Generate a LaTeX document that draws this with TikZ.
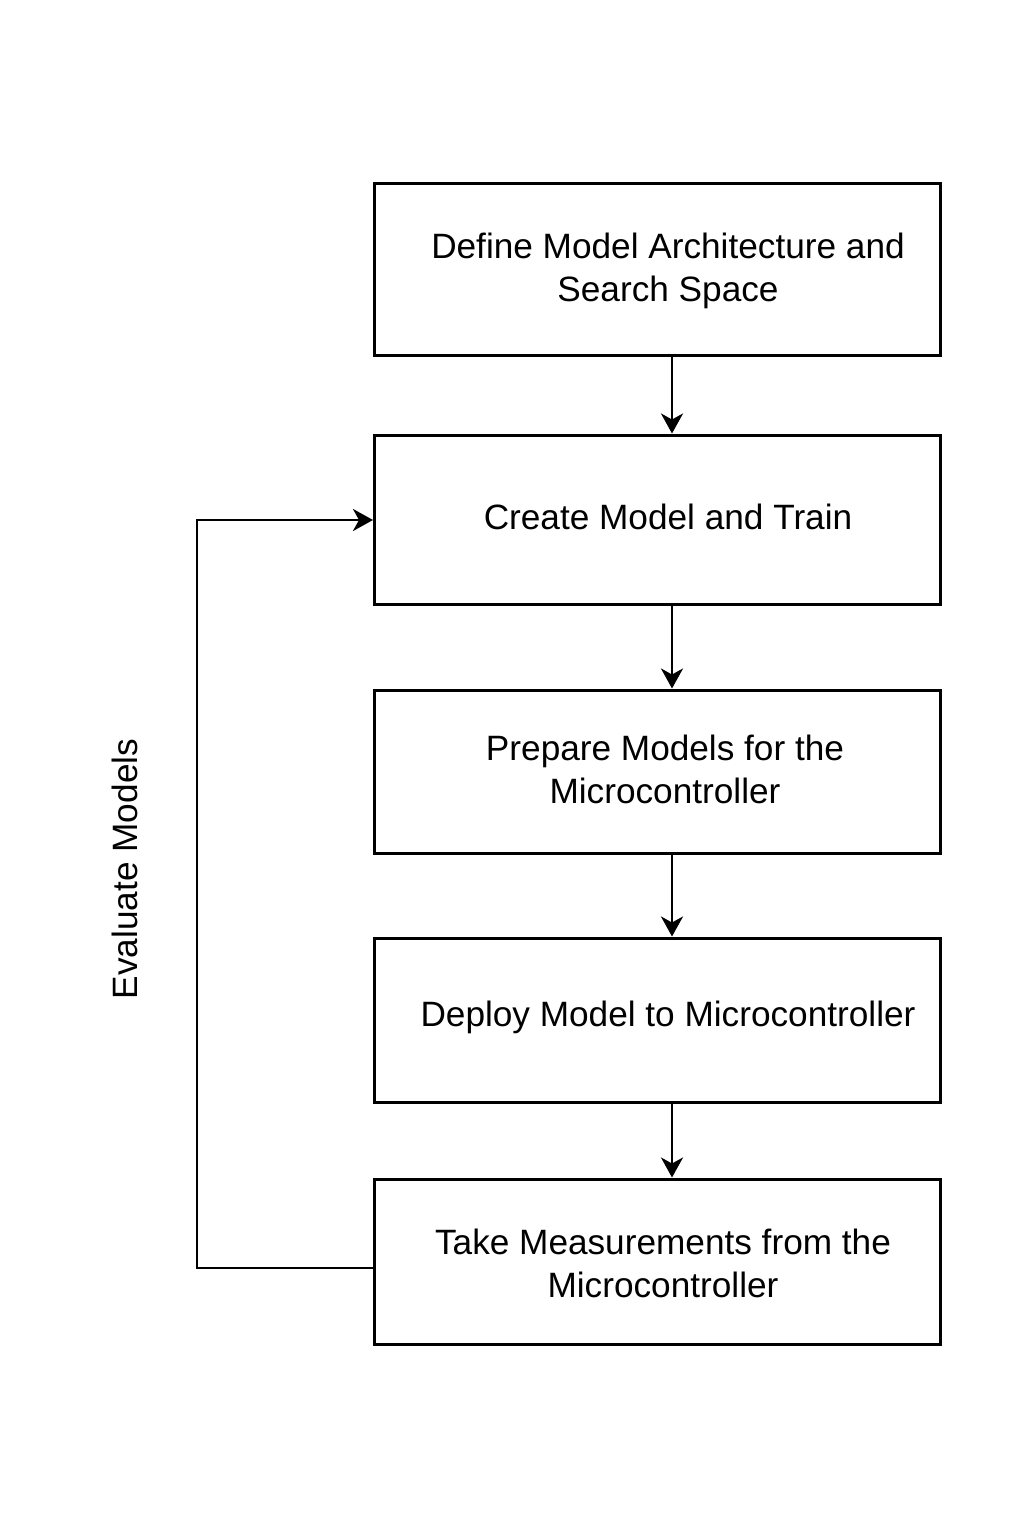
\documentclass[tikz,border=0pt]{standalone}
\usepackage{fontspec}
\setmainfont{Liberation Sans}
\usetikzlibrary{arrows.meta}
\begin{document}
\begin{tikzpicture}[x=0.5pt,y=-0.5pt,
  box/.style={draw=black,line width=1.5pt,minimum width=283pt,inner sep=0pt},
  txt/.style={font=\fontsize{17.6}{21.5}\selectfont,align=center,inner sep=0pt},
  arr/.style={line width=1.3pt,-{Stealth[length=10pt,width=11pt,inset=3pt]}}]
\useasboundingbox (0,0) rectangle (1024,1536);
\node[box,minimum height=86pt] (b1) at (657,269) {};
\node[box,minimum height=84.5pt] (b2) at (657,519.5) {};
\node[box,minimum height=81.5pt] (b3) at (657,771.5) {};
\node[box,minimum height=82pt] (b4) at (657,1020) {};
\node[box,minimum height=82.5pt] (b5) at (657,1261.5) {};
\node[txt] (t1) at (668,271) {Define Model Architecture and\\Search Space};
\node[txt] (t2) at (668,517) {Create Model and Train};
\node[txt] (t3) at (665,769) {Prepare Models for the\\Microcontroller};
\node[txt] (t4) at (668,1017) {Deploy Model to Microcontroller};
\node[txt] (t5) at (663,1263) {Take Measurements from the\\Microcontroller};
\node[txt,rotate=90] (ev) at (125,869) {Evaluate Models};
\coordinate (c1) at (672,355);
\draw[arr] (c1) -- (c1 |- b2.north);
\coordinate (c2) at (672,604);
\draw[arr] (c2) -- (c2 |- b3.north);
\coordinate (c3) at (672,853);
\draw[arr] (c3) -- (c3 |- b4.north);
\coordinate (c4) at (672,1102);
\draw[arr] (c4) -- (c4 |- b5.north);
\coordinate (l1) at (374,1268);
\coordinate (l2) at (373,520);
\draw[arr] (l1) -- (197,1268) -- (197,520) -- (l2);
\end{tikzpicture}
\end{document}
